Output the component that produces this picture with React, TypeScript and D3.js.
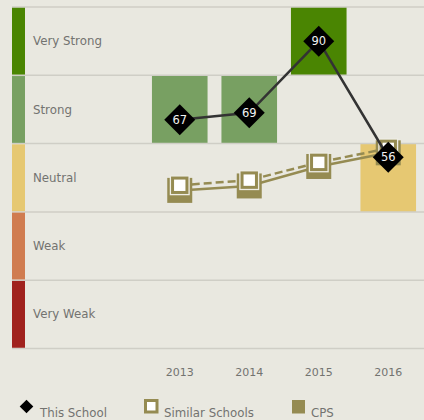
import React from "react";
import * as d3 from "d3";

const years = ["2013", "2014", "2015", "2016"];
const thisSchool = [67, 69, 90, 56];
const similarSchools = [47.8, 49.3, 54.5, 58.6];
const cps = [46.3, 47.6, 53.3, 57.3];
const ratings = ["Very Weak", "Weak", "Neutral", "Strong", "Very Strong"];
const ratingColors = ["#a0221e", "#d07c50", "#e6c872", "#78a062", "#4a8502"];
const legendLabels = ["This School", "Similar Schools", "CPS"];

const W = 424;
const H = 420;
const BG = "#e9e8e0";
const OLIVE = "#958b52";
const TEXT = "#737370";
const FONT = "'DejaVu Sans', Verdana, sans-serif";

export default function App() {
  const y = d3.scaleLinear().domain([0, 100]).range([348.5, 7]);
  const x = d3.scaleBand<string>().domain(years).range([145, 423]).paddingInner(0.2).paddingOuter(0.1);
  const cx = (yr: string) => (x(yr) as number) + x.bandwidth() / 2;
  const bandSize = 100 / ratings.length;

  const lineGen = d3
    .line<[number, number]>()
    .x((d) => d[0])
    .y((d) => d[1]);

  const schoolPts: [number, number][] = years.map((yr, i) => [cx(yr), y(thisSchool[i])]);
  const simPts: [number, number][] = years.map((yr, i) => [cx(yr), y(similarSchools[i])]);
  const cpsPts: [number, number][] = years.map((yr, i) => [cx(yr), y(cps[i])]);

  const dia = (r: number) => `M0,${-r}L${r},0L0,${r}L${-r},0Z`;

  const gridVals = d3.range(0, 101, bandSize);

  return (
    <div style={{ position: "fixed", left: 0, top: 0, width: W, height: H, background: BG }}>
      <svg width={W} height={H} style={{ display: "block", fontFamily: FONT }}>
        <rect x={0} y={0} width={W} height={H} fill={BG} />
        {/* rating bars for this school */}
        {years.map((yr, i) => {
          const idx = Math.min(ratings.length - 1, Math.floor(thisSchool[i] / bandSize));
          return (
            <rect
              key={yr}
              x={x(yr)}
              y={y((idx + 1) * bandSize)}
              width={x.bandwidth()}
              height={y(idx * bandSize) - y((idx + 1) * bandSize)}
              fill={ratingColors[idx]}
            />
          );
        })}
        {/* grid lines */}
        {gridVals.map((v) => (
          <line key={v} x1={12} x2={W} y1={y(v)} y2={y(v)} stroke="#cfcec6" strokeWidth={1.5} />
        ))}
        {/* rating strips and labels */}
        {ratings.map((r, i) => {
          const top = y((i + 1) * bandSize);
          const bot = y(i * bandSize);
          return (
            <g key={r}>
              <rect x={12} y={top + 0.75} width={13} height={bot - top - 1.5} fill={ratingColors[i]} />
              <text x={33} y={(top + bot) / 2} dy="0.35em" fontSize={11.8} fill={TEXT}>
                {r}
              </text>
            </g>
          );
        })}
        {/* year labels */}
        {years.map((yr) => (
          <text key={yr} x={cx(yr)} y={376} textAnchor="middle" fontSize={11} fill={TEXT}>
            {yr}
          </text>
        ))}
        {/* CPS line and similar line */}
        <path d={lineGen(cpsPts) || ""} fill="none" stroke={OLIVE} strokeWidth={2.5} />
        <path d={lineGen(simPts) || ""} fill="none" stroke={OLIVE} strokeWidth={2.5} strokeDasharray="8,4" />
        {cpsPts.map((p, i) => (
          <rect key={"c" + i} x={p[0] - 12.5} y={p[1] - 12.5} width={25} height={25} fill={OLIVE} />
        ))}
        {simPts.map((p, i) => (
          <g key={"s" + i} transform={`translate(${p[0]},${p[1]})`}>
            <rect x={-10} y={-10} width={20} height={20} fill="#eeede5" />
            <rect x={-7.2} y={-7.2} width={14.4} height={14.4} fill="#ffffff" stroke={OLIVE} strokeWidth={3} />
          </g>
        ))}
        {/* this school */}
        <path d={lineGen(schoolPts) || ""} fill="none" stroke="#333333" strokeWidth={2.5} />
        {schoolPts.map((p, i) => (
          <g key={"d" + i} transform={`translate(${p[0]},${p[1]})`}>
            <path d={dia(15.5)} fill="#000000" />
            <text textAnchor="middle" dy="0.36em" fontSize={11.5} fill="#f2f2f2">
              {thisSchool[i]}
            </text>
          </g>
        ))}
        {/* legend */}
        <g>
          <path d={dia(6.8)} transform="translate(26.5,406.5)" fill="#000000" />
          <text x={40} y={416.5} fontSize={11.8} fill={TEXT}>
            {legendLabels[0]}
          </text>
          <rect x={145.5} y={400.5} width={11.5} height={11.5} fill="#ffffff" stroke={OLIVE} strokeWidth={3} />
          <text x={164} y={416.5} fontSize={11.8} fill={TEXT}>
            {legendLabels[1]}
          </text>
          <rect x={292} y={400} width={13} height={13.5} fill={OLIVE} />
          <text x={311} y={416.5} fontSize={11.8} fill={TEXT}>
            {legendLabels[2]}
          </text>
        </g>
      </svg>
    </div>
  );
}
